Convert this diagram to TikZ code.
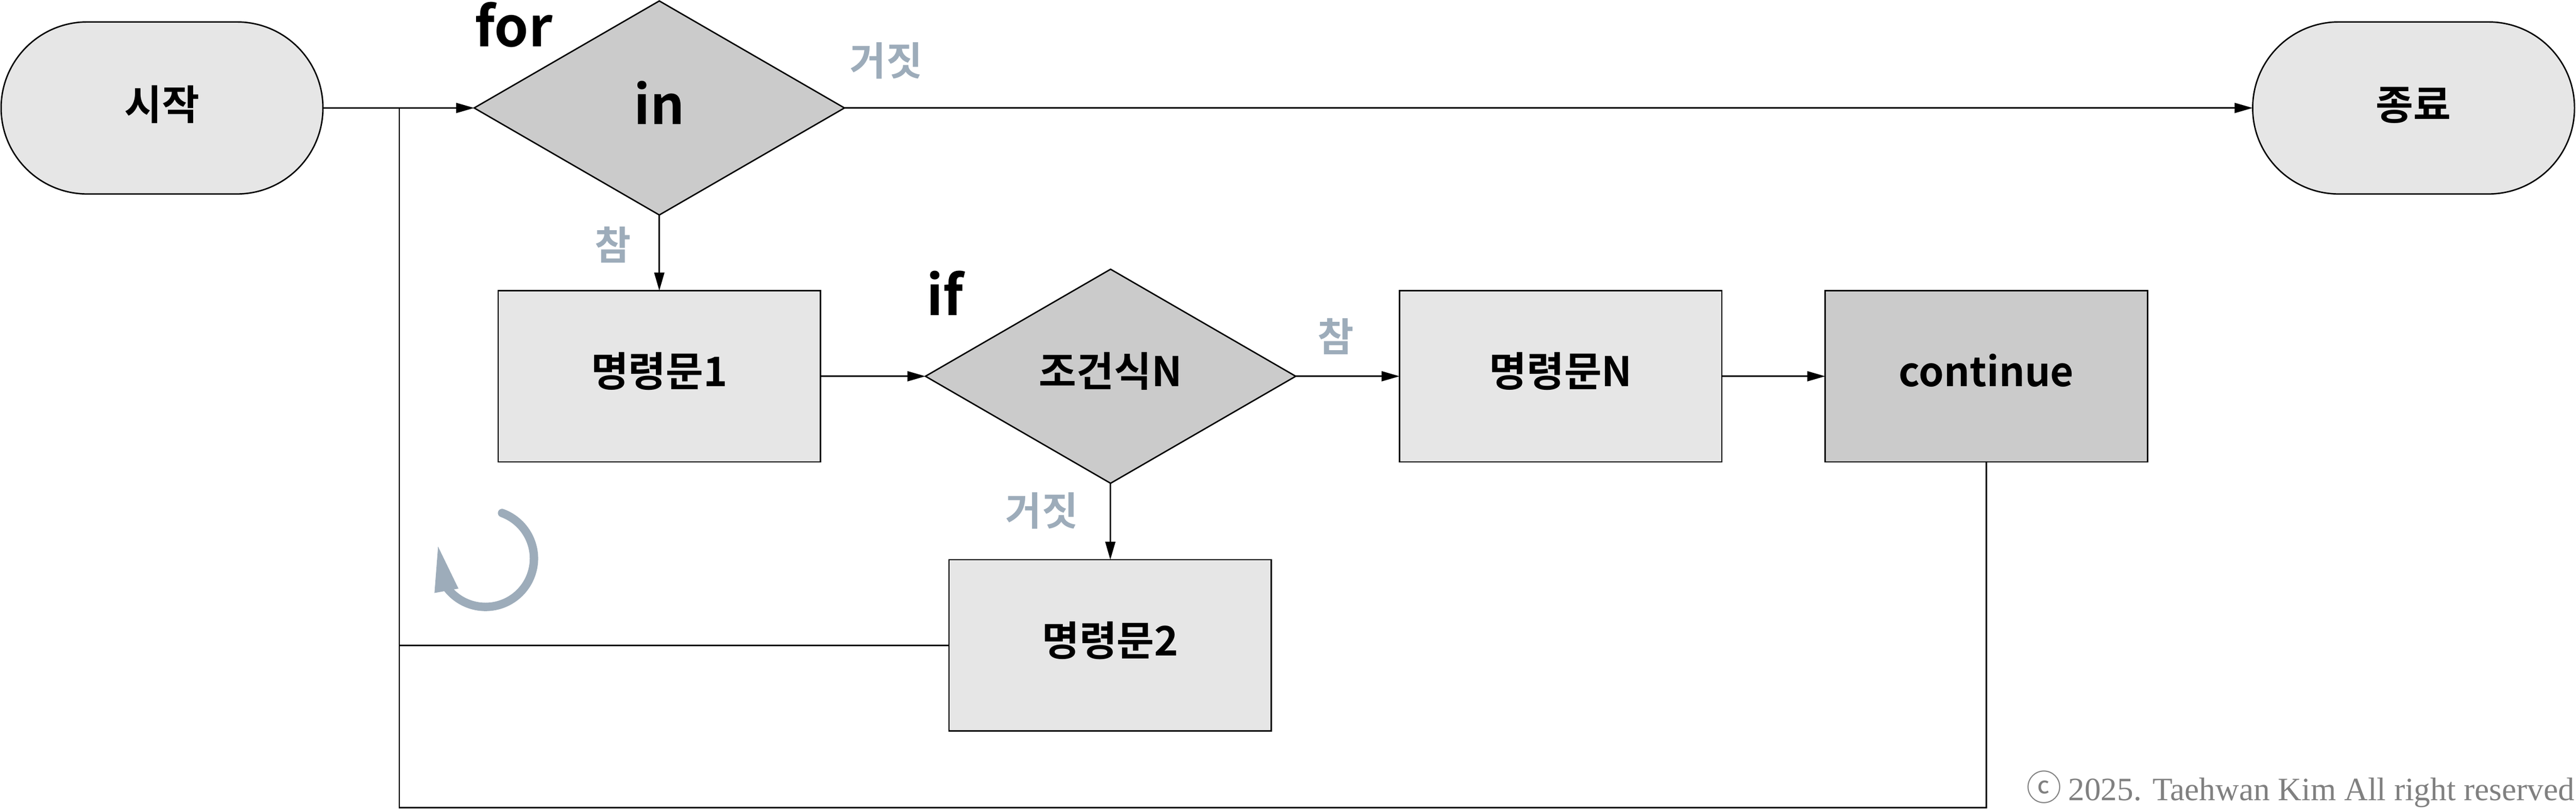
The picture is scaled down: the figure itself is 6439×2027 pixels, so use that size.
\documentclass[tikz,border=0pt]{standalone}
\usepackage{fontspec}
\setmainfont{Noto Sans CJK KR}[BoldFont={Noto Sans CJK KR Bold}]
\newfontfamily\serifcopy{Liberation Serif}
\newfontfamily\circfont{Noto Sans CJK KR}
\usetikzlibrary{arrows.meta,shapes.geometric,shapes.misc}
\definecolor{lightfill}{HTML}{E6E6E6}
\definecolor{darkfill}{HTML}{CBCBCB}
\definecolor{slate}{HTML}{9DACBA}
\definecolor{copygray}{HTML}{808080}
\tikzset{
  x=0.01cm,y=-0.01cm,
  line/.style={line width=0.035cm,draw=black},
  flow/.style={line,-{Triangle[length=0.45cm,width=0.25cm]},shorten >=0pt},
  base/.style={line,outer sep=0pt,inner sep=0pt,font=\fontsize{29}{32}\selectfont\bfseries,text=black,text height=0.9cm,text depth=0.38cm},
  termbox/.style={base,rounded rectangle,fill=lightfill,minimum width=8.04cm,minimum height=4.30cm,text depth=0.3cm},
  procbox/.style={base,rectangle,fill=lightfill,minimum width=8.05cm,minimum height=4.28cm},
  contbox/.style={procbox,fill=darkfill,font=\fontsize{28.6}{32}\selectfont\bfseries},
  decbox/.style={base,diamond,fill=darkfill,minimum width=9.25cm,minimum height=5.35cm,aspect=1.73},
  branch/.style={text=slate,font=\fontsize{28}{30}\selectfont\bfseries,inner sep=0pt},
  keyword/.style={text=black,font=\fontsize{39}{42}\selectfont\bfseries,inner sep=0pt,anchor=base},
}
\begin{document}
\begin{tikzpicture}
\useasboundingbox (0,0) rectangle (6439,2027);
\node[termbox] (start) at (405,270) {시작};
\node[termbox] (end) at (6033,270) {종료};
\node[decbox,font=\fontsize{38}{40}\selectfont\bfseries,text height=1.2cm] (in) at (1648,270) {in};
\node[procbox] (cmd1) at (1648,941) {명령문1};
\node[decbox] (cond) at (2776,941) {조건식N};
\node[procbox] (cmdN) at (3901,941) {명령문N};
\node[contbox] (cont) at (4965,941) {continue};
\node[procbox] (cmd2) at (2775,1614) {명령문2};
\coordinate (join) at (998,270);
\coordinate (corner) at (998,2020);
\node[keyword] (forlabel) at (1284,116) {for};
\node[keyword] (iflabel) at (2362,789) {if};
\node[branch] (f1) at (2215,152) {거짓};
\node[branch] (t1) at (1532,612) {참};
\node[branch] (t2) at (3339,842) {참};
\node[branch] (f2) at (2604,1277) {거짓};
\draw[flow] (start) -- (in);
\draw[flow] (in) -- (end);
\draw[flow] (in) -- (cmd1);
\draw[flow] (cmd1) -- (cond);
\draw[flow] (cond) -- (cmdN);
\draw[flow] (cmdN) -- (cont);
\draw[flow] (cond) -- (cmd2);
\draw[line] (cmd2.west) -- (cmd2.west -| join);
\draw[line] (cont.south) |- (corner) -- (join);
\draw[slate,line width=0.21cm,line cap=round] (1255,1283) arc[start angle=70,end angle=-145,radius=1.21cm];
\fill[slate] (1095,1367) -- (1086,1483) -- (1146,1472) -- cycle;
\node[text=copygray,font=\serifcopy\fontsize{23.2}{26}\selectfont,anchor=base east,inner sep=0pt] (copy) at (6436,2002) {{\circfont\fontsize{25}{26}\selectfont ⓒ}\hspace{0.16cm}2025. Taehwan Kim All right reserved};
\end{tikzpicture}
\end{document}
